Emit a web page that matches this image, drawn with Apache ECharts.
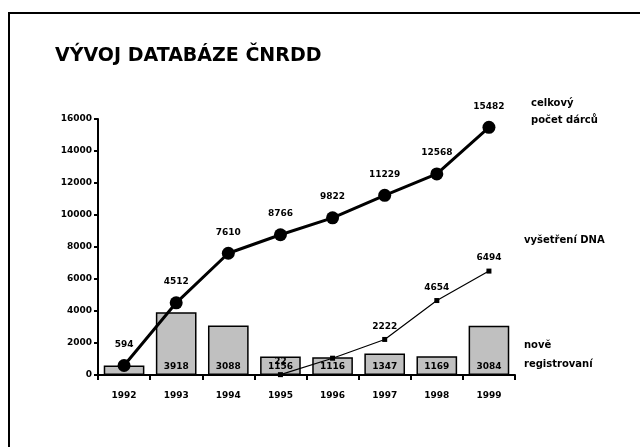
<!DOCTYPE html>
<html><head><meta charset="utf-8">
<script src="https://cdn.jsdelivr.net/npm/echarts@6/dist/echarts.min.js"></script>
<style>html,body{margin:0;padding:0;background:#fff}#c{width:640px;height:447px}</style>
</head><body><div id="c"></div>
<script>
const years = ['1992','1993','1994','1995','1996','1997','1998','1999'];
const totalDonors = [594, 4512, 7610, 8766, 9822, 11229, 12568, 15482];
const newRegistered = [594, 3918, 3088, 1156, 1116, 1347, 1169, 3084];
const dnaTested = [null, null, null, 22, 1050, 2222, 4654, 6494];
const dnaLabelShown = [false, false, false, true, false, true, true, true];

const chart = echarts.init(document.getElementById('c'), null, {renderer:'canvas'});
const F = 'DejaVu Sans';
chart.setOption({
  animation:false,
  backgroundColor:'#fff',
  title:{text:'VÝVOJ DATABÁZE ČNRDD', left:50, top:42,
    textStyle:{fontFamily:F, fontSize:19, fontWeight:'bold', color:'#000'}},
  graphic:[
    {type:'rect', shape:{x:9, y:13, width:640, height:460}, style:{fill:'none', stroke:'#000', lineWidth:2}},
    {type:'text', left:531, top:95, style:{text:'celkový\npočet dárců', font:'bold 10px DejaVu Sans', fill:'#000', lineHeight:17}},
    {type:'text', left:524, top:235, style:{text:'vyšetření DNA', font:'bold 10px DejaVu Sans', fill:'#000'}},
    {type:'text', left:524, top:336, style:{text:'nově\nregistrovaní', font:'bold 10px DejaVu Sans', fill:'#000', lineHeight:19}}
  ],
  grid:{left:98, right:125, top:119, bottom:72},
  xAxis:{type:'category', data:years, boundaryGap:true,
    axisLine:{lineStyle:{color:'#000', width:2}},
    axisTick:{show:true, interval:0, length:5, lineStyle:{color:'#000', width:2}},
    axisLabel:{fontFamily:F, fontSize:9, fontWeight:'bold', color:'#000', margin:16}},
  yAxis:{type:'value', min:0, max:16000, interval:2000,
    splitLine:{show:false},
    axisLine:{show:true, lineStyle:{color:'#000', width:2}},
    axisTick:{show:true, length:4, lineStyle:{color:'#000', width:2}},
    axisLabel:{fontFamily:F, fontSize:9, fontWeight:'bold', color:'#000', margin:6, formatter:v=>String(v)}},
  series:[
    {type:'bar', data:newRegistered, barWidth:'78%',
      itemStyle:{color:'#c0c0c0', borderColor:'#000', borderWidth:1.5},
      label:{show:true, position:'insideBottom', distance:4, fontFamily:F, fontSize:9, fontWeight:'bold', color:'#000',
        formatter:p=> p.dataIndex===0 ? '' : String(p.value)}},
    {type:'line', data:dnaTested, connectNulls:false,
      lineStyle:{color:'#000', width:1.2}, itemStyle:{color:'#000'},
      symbol:'rect', symbolSize:5,
      label:{show:true, fontFamily:F, fontSize:9, fontWeight:'bold', color:'#000', position:'top', distance:6,
        formatter:p=> dnaLabelShown[p.dataIndex] ? String(p.value) : ''}},
    {type:'line', data:totalDonors,
      lineStyle:{color:'#000', width:3}, itemStyle:{color:'#000'},
      symbol:'circle', symbolSize:13,
      label:{show:true, fontFamily:F, fontSize:9, fontWeight:'bold', color:'#000', position:'top', distance:10}}
  ]
});
</script></body></html>
